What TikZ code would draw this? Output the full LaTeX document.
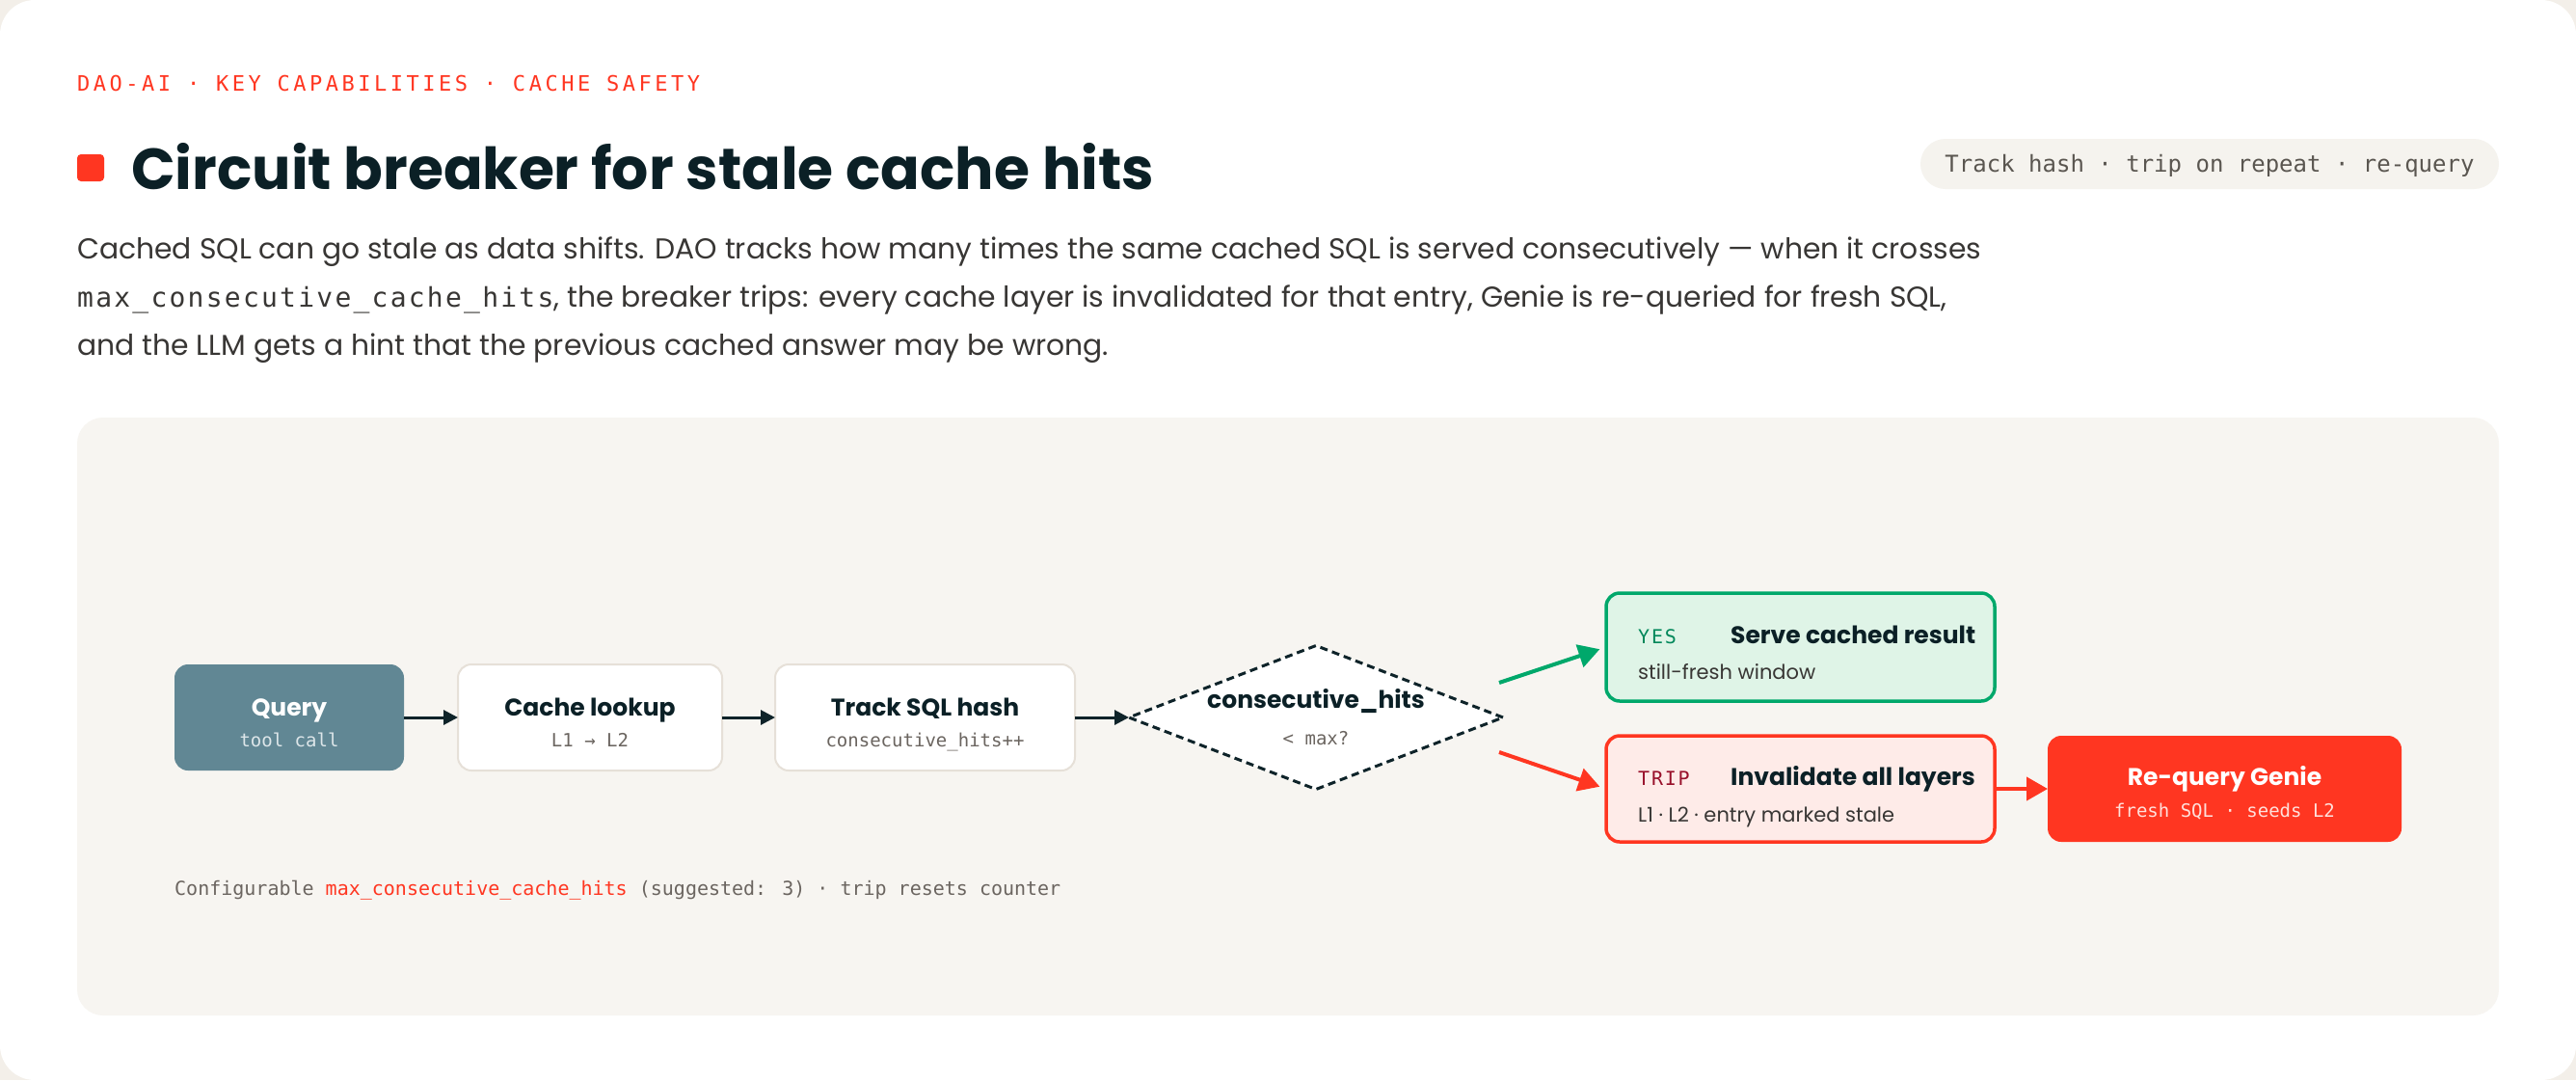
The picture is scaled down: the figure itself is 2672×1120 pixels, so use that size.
\documentclass[tikz,border=0pt]{standalone}
\usepackage{fontspec}
\setmainfont{Poppins}
\newfontfamily\mono{DejaVu Sans Mono}
\newfontfamily\monoLS[LetterSpace=16]{DejaVu Sans Mono}
\newfontfamily\monoW[LetterSpace=9]{DejaVu Sans Mono}
\newfontfamily\monoB[LetterSpace=8]{DejaVu Sans Mono}
\usetikzlibrary{arrows.meta,shapes.geometric,calc}
\definecolor{outerbg}{HTML}{F3EFE9}
\definecolor{brandred}{HTML}{FF3621}
\definecolor{navy}{HTML}{0B2026}
\definecolor{bodygrey}{HTML}{383634}
\definecolor{pillfill}{HTML}{F5F3EE}
\definecolor{pilltext}{HTML}{5A5650}
\definecolor{panelfill}{HTML}{F7F5F1}
\definecolor{queryfill}{HTML}{618794}
\definecolor{boxline}{HTML}{E6E0D8}
\definecolor{arrowdark}{HTML}{0E2329}
\definecolor{okgreen}{HTML}{00A86B}
\definecolor{okfill}{HTML}{DFF4E7}
\definecolor{okdark}{HTML}{00875A}
\definecolor{tripfill}{HTML}{FEEBE8}
\definecolor{tripdark}{HTML}{98102A}
\definecolor{subgrey}{HTML}{6B6560}
\definecolor{lightsub}{HTML}{DDE6E9}
\definecolor{pinksub}{HTML}{FFE0DB}
\begin{document}
\begin{tikzpicture}[x=1pt,y=-1pt,
  box/.style={rounded corners=14pt, minimum height=110pt, inner sep=0pt, outer sep=0pt},
  whitebox/.style={box, fill=white, draw=boxline, line width=2pt},
  ttl/.style={anchor=base, inner sep=0pt, font=\fontsize{25}{30}\selectfont\bfseries, text=navy},
  sub/.style={anchor=base, inner sep=0pt, font=\fontsize{19}{23}\selectfont\mono, text=subgrey},
  darr/.style={line width=3pt, draw=arrowdark, -{Triangle[length=15pt,width=15pt]}},
  garr/.style={line width=4pt, draw=okgreen, -{Triangle[length=22pt,width=24pt]}, shorten >=7pt},
  rarr/.style={line width=4pt, draw=brandred, -{Triangle[length=22pt,width=24pt]}},
  lefttxt/.style={anchor=base west, inner sep=0pt}
]
\useasboundingbox (0,0) rectangle (2672,1120);
% card
\fill[outerbg] (0,0) rectangle (2672,1120);
\fill[white, rounded corners=36pt] (0,0) rectangle (2672,1120);

% header
\node[lefttxt, text=brandred, font=\fontsize{22}{26}\selectfont\monoLS] (kicker) at (80,94) {DAO-AI · KEY CAPABILITIES · CACHE SAFETY};
\fill[brandred, rounded corners=4pt] (80,160) rectangle (108,188);
\node[lefttxt, text=navy, font=\fontsize{60}{70}\selectfont\bfseries] (title) at (136,196) {Circuit breaker for stale cache hits};
\fill[pillfill, rounded corners=26pt] (1992,144) rectangle (2592,196);
\node[anchor=base, inner sep=0pt, text=pilltext, font=\fontsize{24}{28}\selectfont\mono] (pill) at (2292,178) {Track hash · trip on repeat · re-query};

\node[lefttxt, text=bodygrey, font=\fontsize{29.8}{36}\selectfont] (l1) at (80,268) {Cached SQL can go stale as data shifts. DAO tracks how many times the same cached SQL is served consecutively — when it crosses};
\node[lefttxt, text=bodygrey, font=\fontsize{29.8}{36}\selectfont] (l2) at (80,318) {{\fontsize{28}{34}\selectfont\monoB max\_consecutive\_cache\_hits}, the breaker trips: every cache layer is invalidated for that entry, Genie is re-queried for fresh SQL,};
\node[lefttxt, text=bodygrey, font=\fontsize{29.8}{36}\selectfont] (l3) at (80,368) {and the LLM gets a hint that the previous cached answer may be wrong.};

% panel
\fill[panelfill, rounded corners=27pt] (80,433) rectangle (2592,1053);

% nodes
\node[box, fill=queryfill, minimum width=238pt] (query) at (300,744) {};
\node[ttl, text=white] (queryt) at (300,742) {Query};
\node[sub, text=lightsub] (querys) at (300,774) {tool call};

\node[whitebox, minimum width=274pt] (cache) at (612,744) {};
\node[ttl] (cachet) at (612,742) {Cache lookup};
\node[sub] (caches) at (612,774) {L1 → L2};

\node[whitebox, minimum width=311pt] (track) at (959.5,744) {};
\node[ttl] (trackt) at (959.5,742) {Track SQL hash};
\node[sub] (tracks) at (959.5,774) {consecutive\_hits++};

\node[diamond, fill=white, draw=arrowdark, line width=3pt, dash pattern=on 8pt off 5pt, minimum width=388pt, minimum height=149pt, inner sep=0pt, outer sep=0pt] (dia) at (1365,744) {};
\node[ttl] (diat) at (1365,734) {consecutive\_hits};
\node[sub] (dias) at (1365,772) {< max?};

\node[box, fill=okfill, draw=okgreen, line width=3.5pt, minimum width=403pt, minimum height=112pt] (serve) at (1867.5,671) {};
\node[lefttxt, text=okdark, font=\fontsize{20}{24}\selectfont\monoW] (yes) at (1699,667) {YES};
\node[lefttxt, text=navy, font=\fontsize{25}{30}\selectfont\bfseries] (servet) at (1795,667) {Serve cached result};
\node[lefttxt, text=bodygrey, font=\fontsize{21}{25}\selectfont] (serves) at (1699,704) {still-fresh window};

\node[box, fill=tripfill, draw=brandred, line width=3.5pt, minimum width=403pt] (inval) at (1867.5,818) {};
\node[lefttxt, text=tripdark, font=\fontsize{20}{24}\selectfont\monoW] (trip) at (1699,814) {TRIP};
\node[lefttxt, text=navy, font=\fontsize{25}{30}\selectfont\bfseries] (invalt) at (1795,814) {Invalidate all layers};
\node[lefttxt, text=bodygrey, font=\fontsize{21}{25}\selectfont] (invals) at (1699,852) {L1 · L2 · entry marked stale};

\node[box, fill=brandred, minimum width=367pt] (genie) at (2307.5,818) {};
\node[ttl, text=white] (geniet) at (2307.5,814) {Re-query Genie};
\node[sub, text=pinksub] (genies) at (2307.5,847) {fresh SQL · seeds L2};

% connectors
\draw[darr] (query) -- (cache);
\draw[darr] (cache) -- (track);
\draw[darr] (track) -- (dia.west);
\coordinate (gs) at ($(dia.center)+(190,-36)$);
\coordinate (rs) at ($(dia.center)+(190,36)$);
\draw[garr] (gs) -- (serve.west);
\draw[rarr, shorten >=7pt] (rs) -- (inval.west);
\draw[rarr] (inval) -- (genie);

% footer
\node[lefttxt, text=subgrey, font=\fontsize{20}{24}\selectfont\mono] (foot) at (181,928) {Configurable {\color{brandred}max\_consecutive\_cache\_hits} (suggested: 3) · trip resets counter};
\end{tikzpicture}
\end{document}
